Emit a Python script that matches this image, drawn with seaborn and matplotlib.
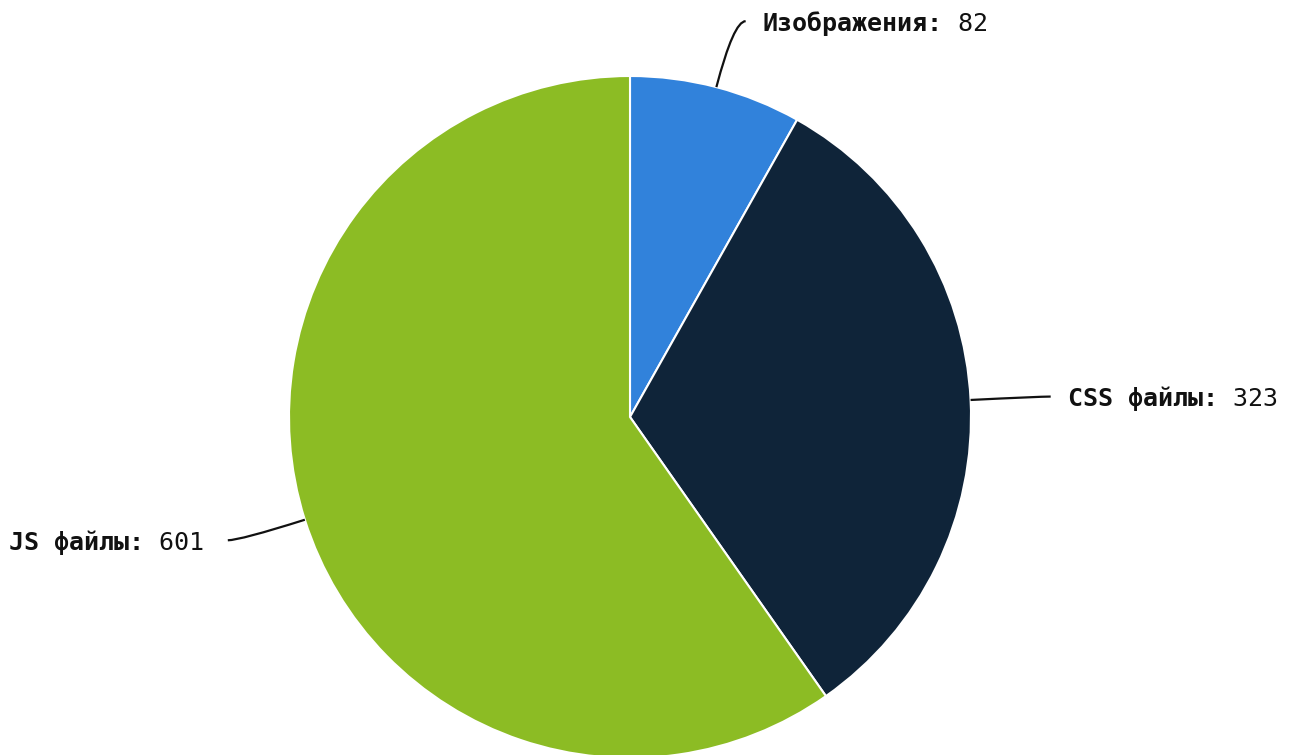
import numpy as np
import matplotlib
matplotlib.use("Agg")
import matplotlib.pyplot as plt
from matplotlib.path import Path
from matplotlib.patches import PathPatch
import seaborn as sns

# --- data ---
categories = ["Изображения", "CSS файлы", "JS файлы"]
values = [82, 323, 601]
colors = ["#3182db", "#0f2439", "#8cbc24"]

sns.set_theme(style="white")
plt.rcParams['font.family'] = ['DejaVu Sans Mono', 'DejaVu Sans']

W, H = 1293, 755
fig = plt.figure(figsize=(W / 100, H / 100), dpi=100)
ax = fig.add_axes([0, 0, 1, 1])

cx, cy, r = 630, H - 417, 341
wedges, _ = ax.pie(values, colors=colors, startangle=90, counterclock=False,
                   center=(cx, cy), radius=r, frame=True,
                   wedgeprops=dict(edgecolor="white", linewidth=1.5))
ax.set_xlim(0, W)
ax.set_ylim(0, H)
ax.set_aspect("equal")
ax.axis("off")

fs = 18
char_w = 0.602 * fs * 100 / 72  # monospace advance in px

for w, name, val in zip(wedges, categories, values):
    ang = np.deg2rad((w.theta1 + w.theta2) / 2)
    ca, sa = np.cos(ang), np.sin(ang)
    p0 = (cx + r * ca, cy + r * sa)
    elbow = (cx + 1.2 * r * ca, cy + 1.2 * r * sa)
    side = 1 if ca >= 0 else -1
    p2 = (elbow[0] + side * 12, elbow[1])
    path = Path([p0, elbow, p2], [Path.MOVETO, Path.CURVE3, Path.CURVE3])
    ax.add_patch(PathPatch(path, facecolor="none", edgecolor="#111111", lw=1.6))

    bold = f"{name}:"
    rest = f" {val}"
    ty = p2[1] - 2.5
    if side > 0:
        tx = p2[0] + 17
        ax.text(tx, ty, bold, ha="left", va="center", fontsize=fs,
                fontweight="bold", color="#111111")
        ax.text(tx + len(bold) * char_w, ty, rest, ha="left", va="center",
                fontsize=fs, color="#111111")
    else:
        tx = p2[0] - 24
        ax.text(tx, ty, rest, ha="right", va="center", fontsize=fs,
                color="#111111")
        ax.text(tx - len(rest) * char_w, ty, bold, ha="right", va="center",
                fontsize=fs, fontweight="bold", color="#111111")

fig.savefig("out.png", dpi=100, facecolor="white")
